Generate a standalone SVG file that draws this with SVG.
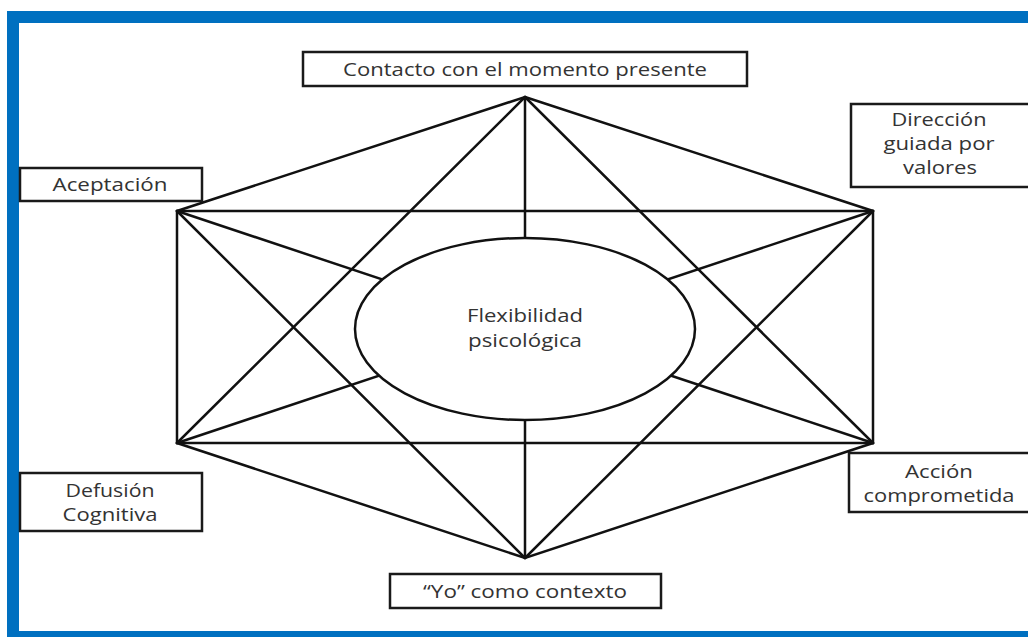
<svg xmlns="http://www.w3.org/2000/svg" width="1028" height="637" viewBox="0 0 1028 637">
<style>
.ln{stroke:#111;stroke-width:2.5;fill:none;stroke-linecap:round}
.box{fill:#fff;stroke:#1a1a1a;stroke-width:2.5}
.t{font-family:"Open Sans","Noto Sans",sans-serif;font-size:18px;fill:#333;text-anchor:middle}
</style>
<rect x="0" y="0" width="1028" height="637" fill="#fff"/>
<g id="frame" fill="#0070c0">
<rect x="7" y="11" width="1021" height="12"/>
<rect x="7" y="11" width="12" height="626"/>
<rect x="7" y="631" width="1021" height="6"/>
</g>
<g id="connectors" class="ln">
<polygon points="525,97 873,211 873,443 525,558 177,443 177,211"/>
<line x1="177" y1="211" x2="873" y2="211"/>
<line x1="177" y1="443" x2="873" y2="443"/>
<line x1="525" y1="97" x2="177" y2="443"/>
<line x1="525" y1="97" x2="873" y2="443"/>
<line x1="525" y1="558" x2="177" y2="211"/>
<line x1="525" y1="558" x2="873" y2="211"/>
<line x1="525" y1="97" x2="525" y2="558"/>
<line x1="177" y1="211" x2="873" y2="443"/>
<line x1="873" y1="211" x2="177" y2="443"/>
</g>
<g id="center">
<ellipse cx="525" cy="329" rx="170" ry="91" fill="#fff" stroke="#111" stroke-width="2.5"/>
<text class="t" x="525" y="322" textLength="116" lengthAdjust="spacingAndGlyphs">Flexibilidad</text>
<text class="t" x="525" y="347" textLength="114" lengthAdjust="spacingAndGlyphs">psicológica</text>
</g>
<g id="contacto">
<rect class="box" x="303" y="52" width="444" height="34"/>
<text class="t" x="525" y="76" textLength="364" lengthAdjust="spacingAndGlyphs">Contacto con el momento presente</text>
</g>
<g id="aceptacion">
<rect class="box" x="20" y="168" width="182" height="33"/>
<text class="t" x="110" y="191" textLength="115" lengthAdjust="spacingAndGlyphs">Aceptación</text>
</g>
<g id="direccion">
<rect class="box" x="851" y="104" width="180" height="83"/>
<text class="t" x="939" y="126" textLength="95" lengthAdjust="spacingAndGlyphs">Dirección</text>
<text class="t" x="939" y="150" textLength="111" lengthAdjust="spacingAndGlyphs">guiada por</text>
<text class="t" x="940" y="174" textLength="74" lengthAdjust="spacingAndGlyphs">valores</text>
</g>
<g id="defusion">
<rect class="box" x="20" y="473" width="182" height="58"/>
<text class="t" x="110" y="497" textLength="89" lengthAdjust="spacingAndGlyphs">Defusión</text>
<text class="t" x="110" y="521" textLength="95" lengthAdjust="spacingAndGlyphs">Cognitiva</text>
</g>
<g id="accion">
<rect class="box" x="849" y="453" width="182" height="59"/>
<text class="t" x="939" y="478" textLength="68" lengthAdjust="spacingAndGlyphs">Acción</text>
<text class="t" x="939" y="502" textLength="151" lengthAdjust="spacingAndGlyphs">comprometida</text>
</g>
<g id="yo">
<rect class="box" x="390" y="574" width="271" height="34"/>
<text class="t" x="525" y="598" textLength="204" lengthAdjust="spacingAndGlyphs">“Yo” como contexto</text>
</g>
</svg>
